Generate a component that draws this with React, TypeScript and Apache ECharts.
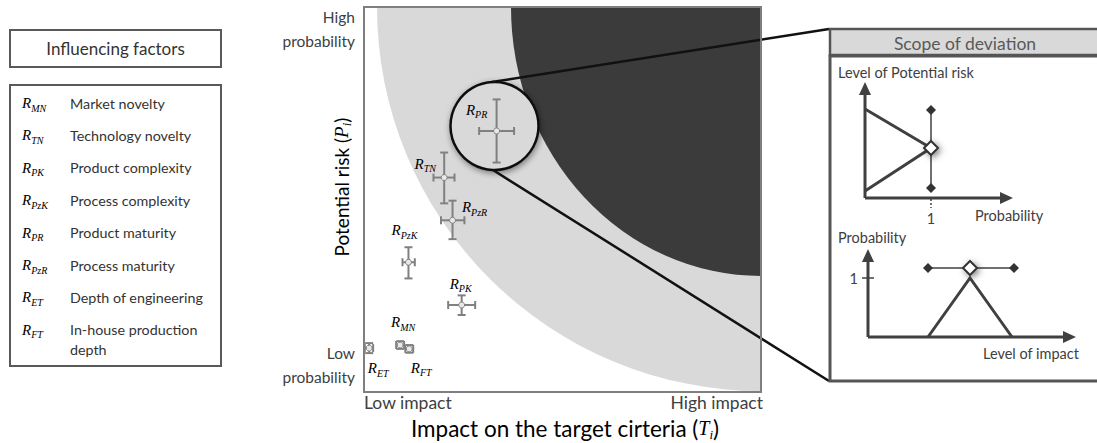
import React, { useEffect, useRef } from "react";
import * as echarts from "echarts";

// ---------- data ----------
const factorCodes = ["MN", "TN", "PK", "PzK", "PR", "PzR", "ET", "FT"];
const factorNames = [
  "Market novelty",
  "Technology novelty",
  "Product complexity",
  "Process complexity",
  "Product maturity",
  "Process maturity",
  "Depth of engineering",
  "In-house production\ndepth",
];
// impact on target criteria (x) and potential risk (y), 0..10 scale
const impact = [0.91, 2.02, 2.46, 1.12, 3.34, 2.23, 0.13, 1.14];
const impactLow = [0.81, 1.75, 2.12, 0.97, 2.9, 1.94, 0.02, 1.04];
const impactHigh = [1.01, 2.28, 2.8, 1.28, 3.78, 2.53, 0.23, 1.24];
const risk = [1.22, 5.57, 2.26, 3.37, 6.78, 4.46, 1.14, 1.12];
const riskLow = [1.12, 4.9, 2.0, 2.95, 5.96, 3.97, 1.01, 1.02];
const riskHigh = [1.32, 6.22, 2.51, 3.76, 7.6, 4.97, 1.27, 1.22];
// label offsets (px) relative to each point
const labelDx = [3, -19, -1, -4, -20, 22, 9, 12];
const labelDy = [-23, -14, -21, -32, -21, -13, 20, 19];

const xAxisLabels = ["Low impact", "High impact"];
const yAxisLabels = ["Low\nprobability", "High\nprobability"];

// ---------- styling ----------
const SANS = "Lato, 'Open Sans', sans-serif";
const SERIF = "'Liberation Serif', 'DejaVu Serif', serif";
const TXT = "#404040";
const G = { left: 364, top: 7, width: 397, height: 385 };

const mathRich = (size: number, color = TXT, tsize = size) => ({
  r: { fontFamily: SERIF, fontStyle: "italic", fontSize: size, color, lineHeight: size + 5, verticalAlign: "middle" },
  s: { fontFamily: SERIF, fontStyle: "italic", fontSize: Math.round(size * 0.66), color, lineHeight: Math.round(size * 0.66), verticalAlign: "bottom" },
  t: { fontFamily: SANS, fontSize: tsize, color, lineHeight: size + 5, verticalAlign: "middle" },
});

function diamond(x: number, y: number, s: number) {
  return [[x, y - s], [x + s, y], [x, y + s], [x - s, y]];
}

export default function App() {
  const ref = useRef<HTMLDivElement>(null);
  useEffect(() => {
    if (!ref.current) return;
    const chart = echarts.init(ref.current, undefined, { renderer: "svg" });

    const dark = "#3b3b3b";
    const ink = "#404040";
    const els: any[] = [];

    // ---- left legend panel ----
    els.push({ type: "rect", z: 5, shape: { x: 10, y: 30, width: 211, height: 37 }, style: { fill: "#fff", stroke: "#595959", lineWidth: 2 } });
    els.push({ type: "text", z: 6, x: 115.5, y: 48.5, style: { text: "Influencing factors", font: `17px ${SANS}`, fill: "#333", align: "center", verticalAlign: "middle" } });
    els.push({ type: "rect", z: 5, shape: { x: 10, y: 85, width: 211, height: 281 }, style: { fill: "#fff", stroke: "#595959", lineWidth: 2 } });
    factorCodes.forEach((c, i) => {
      const yy = 103 + 32.4 * i;
      els.push({ type: "text", z: 6, x: 22, y: yy, style: { text: `{r|R}{s|${c}}`, rich: mathRich(15, "#333"), align: "left", verticalAlign: "middle" } });
      els.push({ type: "text", z: 6, x: 70, y: yy - 10, style: { text: factorNames[i], font: `14.3px ${SANS}`, fill: "#333", align: "left", verticalAlign: "top", lineHeight: 20 } });
    });

    // ---- risk zones ----
    els.push({ type: "sector", z: 1, shape: { cx: G.left + G.width, cy: G.top, r: 384, r0: 0, startAngle: Math.PI / 2, endAngle: Math.PI }, style: { fill: "#d9d9d9" } });
    els.push({ type: "sector", z: 1, x: G.left + G.width, y: G.top, scaleY: 269 / 250, shape: { cx: 0, cy: 0, r: 250, r0: 0, startAngle: Math.PI / 2, endAngle: Math.PI }, style: { fill: dark } });
    // magnifier
    els.push({ type: "circle", z: 2, shape: { cx: 494.5, cy: 126, r: 44 }, style: { fill: "#d9d9d9", stroke: "#111", lineWidth: 2.5, shadowBlur: 6, shadowColor: "rgba(0,0,0,0.45)", shadowOffsetX: 1, shadowOffsetY: 2 } });
    els.push({ type: "line", z: 3, shape: { x1: 492, y1: 82, x2: 829, y2: 29 }, style: { stroke: "#111", lineWidth: 2.5 } });
    els.push({ type: "line", z: 3, shape: { x1: 493, y1: 170, x2: 829, y2: 381 }, style: { stroke: "#111", lineWidth: 2.5 } });
    // plot border
    els.push({ type: "rect", z: 20, shape: { x: G.left, y: G.top, width: G.width, height: G.height }, style: { fill: "none", stroke: "#7f7f7f", lineWidth: 2 } });

    // ---- axis texts ----
    els.push({ type: "text", z: 6, x: 355, y: 29, style: { text: yAxisLabels[1], font: `15.5px ${SANS}`, fill: ink, align: "right", verticalAlign: "middle", lineHeight: 24 } });
    els.push({ type: "text", z: 6, x: 355, y: 365, style: { text: yAxisLabels[0], font: `15.5px ${SANS}`, fill: ink, align: "right", verticalAlign: "middle", lineHeight: 24 } });
    els.push({ type: "text", z: 6, x: 364, y: 402, style: { text: xAxisLabels[0], font: `17.5px ${SANS}`, fill: ink, align: "left", verticalAlign: "middle" } });
    els.push({ type: "text", z: 6, x: 763, y: 402, style: { text: xAxisLabels[1], font: `17.5px ${SANS}`, fill: ink, align: "right", verticalAlign: "middle" } });
    els.push({ type: "text", z: 6, x: 565, y: 428, style: { text: "{t|Impact on the target cirteria (}{r|T}{s|i}{t|)}", rich: mathRich(20, ink, 22.5), align: "center", verticalAlign: "middle" } });
    els.push({ type: "text", z: 6, x: 341, y: 187, rotation: Math.PI / 2, style: { text: "{t|Potential risk (}{r|P}{s|i}{t|)}", rich: mathRich(19, ink), align: "center", verticalAlign: "middle" } });

    // ---- right panel ----
    els.push({ type: "rect", z: 5, shape: { x: 830, y: 29, width: 280, height: 26 }, style: { fill: "#d9d9d9", stroke: "#555", lineWidth: 2.5 } });
    els.push({ type: "text", z: 6, x: 965, y: 43, style: { text: "Scope of deviation", font: `17.5px ${SANS}`, fill: "#595959", align: "center", verticalAlign: "middle" } });
    els.push({ type: "rect", z: 5, shape: { x: 830, y: 56, width: 280, height: 325 }, style: { fill: "none", stroke: "#555", lineWidth: 3 } });

    const small = `14.5px ${SANS}`;
    // top mini chart
    els.push({ type: "text", z: 6, x: 838, y: 72, style: { text: "Level of Potential risk", font: small, fill: ink, align: "left", verticalAlign: "middle" } });
    els.push({ type: "line", z: 6, shape: { x1: 865, y1: 198, x2: 865, y2: 92 }, style: { stroke: ink, lineWidth: 3 } });
    els.push({ type: "polygon", z: 6, shape: { points: [[865, 82], [859, 95], [871, 95]] }, style: { fill: ink } });
    els.push({ type: "line", z: 6, shape: { x1: 865, y1: 198, x2: 1003, y2: 198 }, style: { stroke: ink, lineWidth: 3 } });
    els.push({ type: "polygon", z: 6, shape: { points: [[1013, 198], [1000, 192], [1000, 204]] }, style: { fill: ink } });
    els.push({ type: "polyline", z: 6, shape: { points: [[865, 109], [931, 148], [865, 191]] }, style: { stroke: ink, lineWidth: 3, fill: "none" } });
    els.push({ type: "line", z: 6, shape: { x1: 931, y1: 110, x2: 931, y2: 188 }, style: { stroke: ink, lineWidth: 1.5 } });
    els.push({ type: "line", z: 6, shape: { x1: 931, y1: 199, x2: 931, y2: 208 }, style: { stroke: ink, lineWidth: 1.5, lineDash: [2, 2] } });
    els.push({ type: "polygon", z: 7, shape: { points: diamond(931, 110, 5) }, style: { fill: "#333" } });
    els.push({ type: "polygon", z: 7, shape: { points: diamond(931, 188, 5) }, style: { fill: "#333" } });
    els.push({ type: "polygon", z: 8, shape: { points: diamond(931, 148, 7) }, style: { fill: "#fff", stroke: "#333", lineWidth: 2, shadowBlur: 6, shadowColor: "rgba(0,0,0,0.5)", shadowOffsetX: 2, shadowOffsetY: 2 } });
    els.push({ type: "text", z: 6, x: 931, y: 218, style: { text: "1", font: small, fill: ink, align: "center", verticalAlign: "middle" } });
    els.push({ type: "text", z: 6, x: 975, y: 215, style: { text: "Probability", font: small, fill: ink, align: "left", verticalAlign: "middle" } });

    // bottom mini chart
    els.push({ type: "text", z: 6, x: 838, y: 237, style: { text: "Probability", font: small, fill: ink, align: "left", verticalAlign: "middle" } });
    els.push({ type: "line", z: 6, shape: { x1: 868, y1: 337, x2: 868, y2: 259 }, style: { stroke: ink, lineWidth: 3 } });
    els.push({ type: "polygon", z: 6, shape: { points: [[868, 249], [862, 262], [874, 262]] }, style: { fill: ink } });
    els.push({ type: "line", z: 6, shape: { x1: 868, y1: 337, x2: 1066, y2: 337 }, style: { stroke: ink, lineWidth: 3 } });
    els.push({ type: "polygon", z: 6, shape: { points: [[1076, 337], [1063, 331], [1063, 343]] }, style: { fill: ink } });
    els.push({ type: "line", z: 6, shape: { x1: 862, y1: 278, x2: 874, y2: 278 }, style: { stroke: ink, lineWidth: 1.5 } });
    els.push({ type: "text", z: 6, x: 858, y: 278, style: { text: "1", font: small, fill: ink, align: "right", verticalAlign: "middle" } });
    els.push({ type: "line", z: 6, shape: { x1: 928, y1: 268, x2: 1014, y2: 268 }, style: { stroke: ink, lineWidth: 1.5 } });
    els.push({ type: "polyline", z: 6, shape: { points: [[928, 337], [970, 278], [1012, 337]] }, style: { stroke: ink, lineWidth: 3, fill: "none" } });
    els.push({ type: "polygon", z: 7, shape: { points: diamond(928, 268, 5) }, style: { fill: "#333" } });
    els.push({ type: "polygon", z: 7, shape: { points: diamond(1014, 268, 5) }, style: { fill: "#333" } });
    els.push({ type: "polygon", z: 8, shape: { points: diamond(970, 268, 7) }, style: { fill: "#fff", stroke: "#333", lineWidth: 2, shadowBlur: 6, shadowColor: "rgba(0,0,0,0.5)", shadowOffsetX: 2, shadowOffsetY: 2 } });
    els.push({ type: "text", z: 6, x: 983, y: 353, style: { text: "Level of impact", font: small, fill: ink, align: "left", verticalAlign: "middle" } });

    const seriesData = factorCodes.map((_, i) => [impact[i], risk[i], impactLow[i], impactHigh[i], riskLow[i], riskHigh[i]]);
    const barColor = "#808080";

    chart.setOption({
      animation: false,
      grid: { ...G, show: false },
      xAxis: { type: "value", min: 0, max: 10, show: false },
      yAxis: { type: "value", min: 0, max: 10, show: false },
      graphic: { elements: els },
      series: [
        {
          type: "custom",
          z: 10,
          clip: false,
          data: seriesData,
          renderItem: (params: any, api: any) => {
            const i = params.dataIndex;
            const c = api.coord([api.value(0), api.value(1)]);
            const xl = api.coord([api.value(2), api.value(1)])[0];
            const xh = api.coord([api.value(3), api.value(1)])[0];
            const yl = api.coord([api.value(0), api.value(4)])[1];
            const yh = api.coord([api.value(0), api.value(5)])[1];
            const cap = 4;
            const ls = { stroke: barColor, lineWidth: 2 };
            const ln = (x1: number, y1: number, x2: number, y2: number) => ({ type: "line", shape: { x1, y1, x2, y2 }, style: ls });
            return {
              type: "group",
              children: [
                ln(c[0], yl, c[0], yh),
                ln(c[0] - cap, yl, c[0] + cap, yl),
                ln(c[0] - cap, yh, c[0] + cap, yh),
                ln(xl, c[1], xh, c[1]),
                ln(xl, c[1] - cap, xl, c[1] + cap),
                ln(xh, c[1] - cap, xh, c[1] + cap),
                { type: "circle", shape: { cx: c[0], cy: c[1], r: 3 }, style: { fill: "#e8e8e8", stroke: barColor, lineWidth: 1 } },
                {
                  type: "text",
                  x: c[0] + labelDx[i],
                  y: c[1] + labelDy[i],
                  style: { text: `{r|R}{s|${factorCodes[i]}}`, rich: mathRich(15, "#404040"), align: "center", verticalAlign: "middle" },
                },
              ],
            };
          },
        },
      ],
    });
    return () => chart.dispose();
  }, []);
  return <div ref={ref} style={{ position: "absolute", left: 0, top: 0, width: 1097, height: 443 }} />;
}
